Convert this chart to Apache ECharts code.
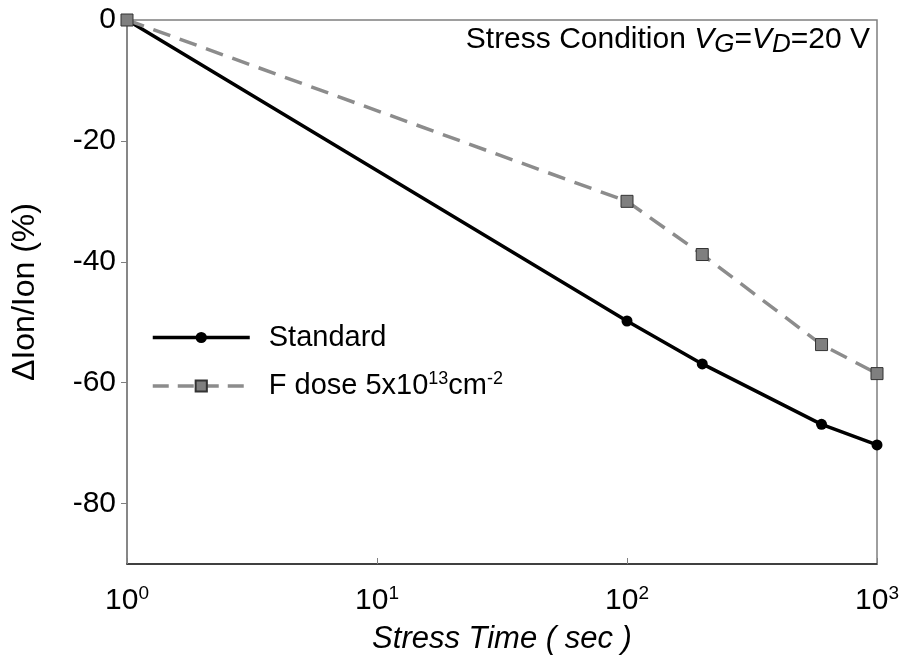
<!DOCTYPE html>
<html>
<head>
<meta charset="utf-8">
<script src="https://cdn.jsdelivr.net/npm/echarts@6/dist/echarts.min.js"></script>
<style>
  html, body { margin: 0; padding: 0; background: #fff; }
  #chart { width: 904px; height: 660px; }
</style>
</head>
<body>
<div id="chart"></div>
<script>
// stress time (sec)
const stressTime = [1, 100, 200, 600, 1000];
// ΔIon/Ion (%)
const standardVals = [0, -49.8, -56.9, -66.9, -70.3];
const fDoseVals = [0, -30.0, -38.8, -53.7, -58.5];
const yTicks = [0, -20, -40, -60, -80];

const font = "Liberation Sans, Arial, sans-serif";

const chart = echarts.init(document.getElementById("chart"));

const option = {
  animation: false,
  backgroundColor: "#fff",
  grid: {
    left: 127,
    right: 27,
    top: 20,
    bottom: 96,
    show: true,
    borderColor: "#7f7f7f",
    borderWidth: 1.5
  },
  legend: {
    orient: "vertical",
    left: 146,
    top: 318,
    itemWidth: 97,
    itemHeight: 14,
    itemGap: 18,
    textStyle: {
      fontFamily: font,
      fontSize: 29,
      color: "#000",
      padding: [0, 0, 0, 14],
      rich: {
        n: { fontFamily: font, fontSize: 29, color: "#000" },
        sup: { fontFamily: font, fontSize: 18, color: "#000", padding: [0, 0, 14, 0] }
      }
    },
    formatter: name => {
      if (name === "Standard") return "{n|Standard}";
      return "{n|F dose 5x10}{sup|13}{n|cm}{sup|-2}";
    },
    data: [
      { name: "Standard", lineStyle: { width: 3.5, color: "#000" } },
      { name: "F dose", lineStyle: { width: 3.5, color: "#8c8c8c", type: [16, 9] } }
    ]
  },
  xAxis: {
    type: "log",
    logBase: 10,
    min: 1,
    max: 1000,
    name: "Stress Time ( sec )",
    nameLocation: "middle",
    nameGap: 60,
    nameTextStyle: { fontFamily: font, fontSize: 31, fontStyle: "italic", color: "#000" },
    axisLine: { onZero: false, lineStyle: { color: "#222", width: 1.5 } },
    axisTick: { inside: true, length: 6, lineStyle: { color: "#7f7f7f" } },
    minorTick: { show: false },
    splitLine: { show: false },
    axisLabel: {
      margin: 20,
      color: "#000",
      formatter: v => "{b|10}{sup|" + Math.round(Math.log10(v)) + "}",
      rich: {
        b: { fontFamily: font, fontSize: 30, color: "#000" },
        sup: { fontFamily: font, fontSize: 19, color: "#000", padding: [0, 0, 14, 0] }
      }
    }
  },
  yAxis: {
    type: "value",
    min: -90,
    max: 0,
    name: "\u0394Ion/Ion (%)",
    nameLocation: "middle",
    nameGap: 86,
    nameTextStyle: { fontFamily: font, fontSize: 32, color: "#000" },
    axisLine: { show: true, lineStyle: { color: "#7f7f7f", width: 1.5 } },
    axisTick: { show: true, length: 6, customValues: yTicks, lineStyle: { color: "#7f7f7f" } },
    splitLine: { show: false },
    axisLabel: {
      margin: 11,
      fontFamily: font,
      fontSize: 30,
      color: "#000",
      customValues: yTicks
    }
  },
  series: [
    {
      name: "Standard",
      type: "line",
      data: stressTime.map((t, i) => [t, standardVals[i]]),
      symbol: "circle",
      symbolSize: 11,
      lineStyle: { color: "#000", width: 3.5 },
      itemStyle: { color: "#000" },
      z: 2
    },
    {
      name: "F dose",
      type: "line",
      data: stressTime.map((t, i) => [t, fDoseVals[i]]),
      symbol: "rect",
      symbolSize: 12,
      lineStyle: { color: "#8c8c8c", width: 3.5, type: [18, 10] },
      itemStyle: { color: "#7f7f7f", borderColor: "#333", borderWidth: 1 },
      z: 3
    }
  ],
  graphic: [
    {
      type: "text",
      right: 34,
      top: 25,
      style: {
        text: "{n|Stress Condition }{i|V}{s|G}{n|=}{i|V}{s|D}{n|=20 V}",
        rich: {
          n: { fontFamily: font, fontSize: 30, fill: "#000" },
          i: { fontFamily: font, fontSize: 30, fontStyle: "italic", fill: "#000" },
          s: { fontFamily: font, fontSize: 26, fontStyle: "italic", fill: "#000", padding: [10, 0, 0, 0] }
        }
      }
    }
  ]
};

chart.setOption(option);
</script>
</body>
</html>
